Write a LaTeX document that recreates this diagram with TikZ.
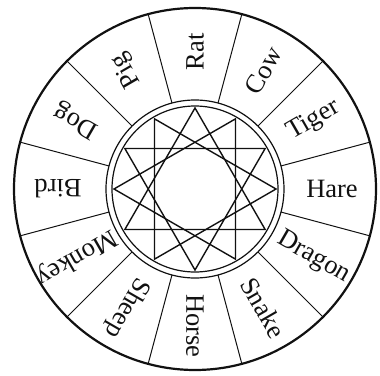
\documentclass[tikz,border=0pt]{standalone}
\usepackage{fontspec}
\setmainfont{Liberation Serif}
\usepackage{tikz}
\usetikzlibrary{calc}
\definecolor{zdInk}{HTML}{111111}
\tikzset{
  rim/.style={draw=zdInk, line width=2.2pt},
  ringline/.style={draw=zdInk, line width=1.2pt},
  spoke/.style={draw=zdInk, line width=1pt},
  starline/.style={draw=zdInk, line width=1.4pt, line join=miter},
  animal/.style={font=\fontsize{26.5}{26.5}\selectfont, text=zdInk, inner sep=0pt}
}

\begin{document}
\begin{tikzpicture}[x=1pt, y=1pt]
  \useasboundingbox (-195,-186) rectangle (185,189);
  \coordinate (c) at (0,0);
  % outer rim and the double ring
  \draw[rim] (c) circle (181);
  \draw[ringline] (c) circle (89);
  \draw[ringline] (c) circle (83);
  % spokes between the signs
  \foreach \k in {0,...,11} {
    \coordinate (in\k) at (15+30*\k:89);
    \coordinate (out\k) at (15+30*\k:181);
    \draw[spoke] (in\k) -- (out\k);
  }
  % star of four triangles
  \foreach \k in {0,...,11}
    \coordinate (v\k) at (30*\k:81);
  \draw[starline] (v3) -- (v7) -- (v11) -- cycle;
  \draw[starline] (v4) -- (v8) -- (v0) -- cycle;
  \draw[starline] (v5) -- (v9) -- (v1) -- cycle;
  \draw[starline] (v6) -- (v10) -- (v2) -- cycle;
  % the twelve signs
  \foreach \sign/\ang in {Rat/90, Cow/60, Tiger/30, Hare/0, Dragon/-30, Snake/-60,
                          Horse/-90, Sheep/-120, Monkey/-150, Bird/180, Dog/150, Pig/120}
    \node[animal, rotate=\ang] (\sign) at (\ang:137) {\sign};
\end{tikzpicture}
\end{document}
